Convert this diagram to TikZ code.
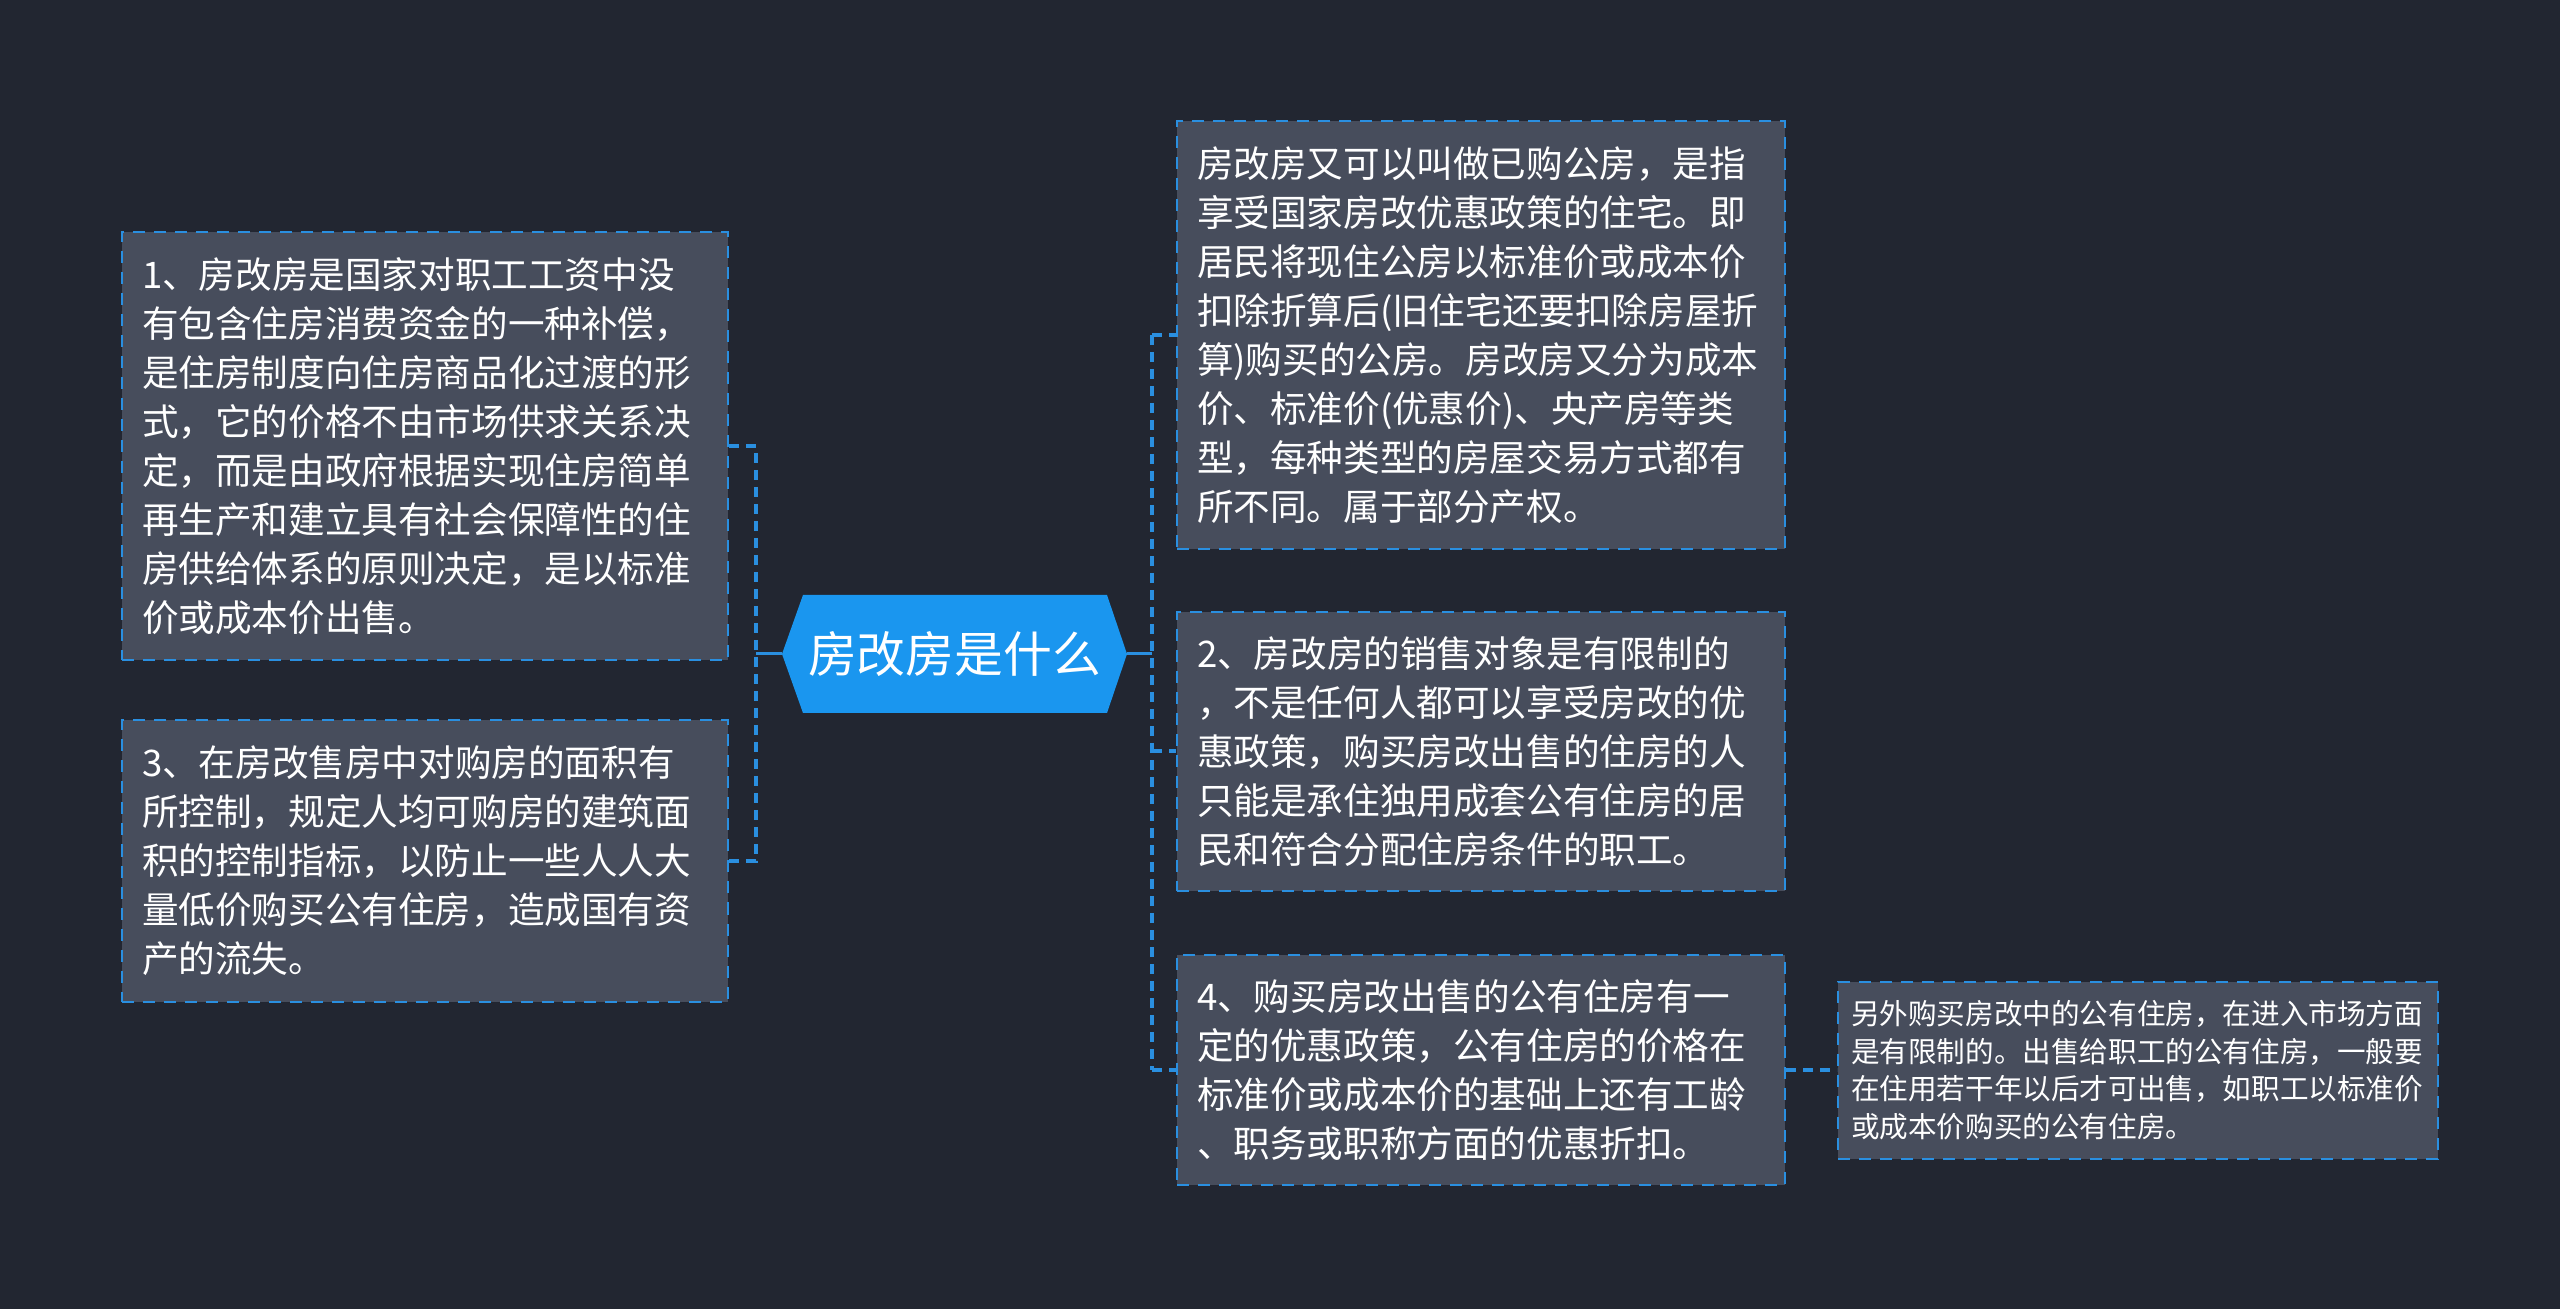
\documentclass[tikz,border=0pt]{standalone}
\usepackage{fontspec}
\setmainfont{Noto Sans CJK SC}
\definecolor{bgc}{HTML}{222631}
\definecolor{boxfill}{HTML}{474D5C}
\definecolor{lineblue}{HTML}{2A8FE0}
\definecolor{hexfill}{HTML}{1A96EF}
\begin{document}
\begin{tikzpicture}[x=0.5pt,y=-0.5pt,
  infobox/.style={draw=lineblue, line width=1pt, dash pattern=on 6pt off 4.5pt,
    fill=boxfill, text=white, align=left, inner xsep=10pt, inner ysep=0pt,
    font=\fontsize{18.3pt}{24.5pt}\selectfont},
  smallbox/.style={infobox, inner xsep=6.5pt, font=\fontsize{14.3pt}{18.8pt}\selectfont},
  dashc/.style={draw=lineblue, line width=2pt, dash pattern=on 5pt off 3.5pt},
  solidc/.style={draw=lineblue, line width=1.5pt}]
\fill[bgc] (0,0) rectangle (2560,1309);
\useasboundingbox (0,0) rectangle (2560,1309);
% central hexagon
\fill[hexfill] (782,654) -- (803,595) -- (1107,595) -- (1127,654) -- (1107,713) -- (803,713) -- cycle;
\node[text=white, inner sep=0pt, minimum width=172.5pt, minimum height=59pt,
  font=\fontsize{24.4pt}{28pt}\selectfont] (root) at (954.5,654) {房改房是什么};
% left boxes
\node[infobox, text width=283pt, minimum height=214pt] (b1) at (425,446) {1、房改房是国家对职工工资中没\\有包含住房消费资金的一种补偿，\\是住房制度向住房商品化过渡的形\\式，它的价格不由市场供求关系决\\定，而是由政府根据实现住房简单\\再生产和建立具有社会保障性的住\\房供给体系的原则决定，是以标准\\价或成本价出售。};
\node[infobox, text width=283pt, minimum height=140.5pt] (b3) at (425,861) {3、在房改售房中对购房的面积有\\所控制，规定人均可购房的建筑面\\积的控制指标，以防止一些人人大\\量低价购买公有住房，造成国有资\\产的流失。};
% right boxes
\node[infobox, text width=284pt, minimum height=214pt] (bA) at (1481,335) {房改房又可以叫做已购公房，是指\\享受国家房改优惠政策的住宅。即\\居民将现住公房以标准价或成本价\\扣除折算后(旧住宅还要扣除房屋折\\算)购买的公房。房改房又分为成本\\价、标准价(优惠价)、央产房等类\\型，每种类型的房屋交易方式都有\\所不同。属于部分产权。};
\node[infobox, text width=284pt, minimum height=139.5pt] (b2) at (1481,751.5) {2、房改房的销售对象是有限制的\\，不是任何人都可以享受房改的优\\惠政策，购买房改出售的住房的人\\只能是承住独用成套公有住房的居\\民和符合分配住房条件的职工。};
\node[infobox, text width=284pt, minimum height=115pt] (b4) at (1481,1070) {4、购买房改出售的公有住房有一\\定的优惠政策，公有住房的价格在\\标准价或成本价的基础上还有工龄\\、职务或职称方面的优惠折扣。};
\node[smallbox, text width=287pt, minimum height=88.5pt] (b5) at (2138,1070) {另外购买房改中的公有住房，在进入市场方面\\是有限制的。出售给职工的公有住房，一般要\\在住用若干年以后才可出售，如职工以标准价\\或成本价购买的公有住房。};
% connectors
\coordinate (ls) at (756,654);
\coordinate (rs) at (1152,654);
\draw[solidc] (root.west) -- (ls);
\draw[solidc] (root.east) -- (rs);
\draw[dashc] (b1.east) -- (b1.east -| ls) -- (b3.east -| ls) -- (b3.east);
\draw[dashc] (bA.west -| rs) -- (b4.west -| rs);
\draw[dashc] (bA.west -| rs) -- (bA.west);
\draw[dashc] (b2.west -| rs) -- (b2.west);
\draw[dashc] (b4.west -| rs) -- (b4.west);
\draw[dashc] (b4.east) -- (b5.west);
\end{tikzpicture}
\end{document}
